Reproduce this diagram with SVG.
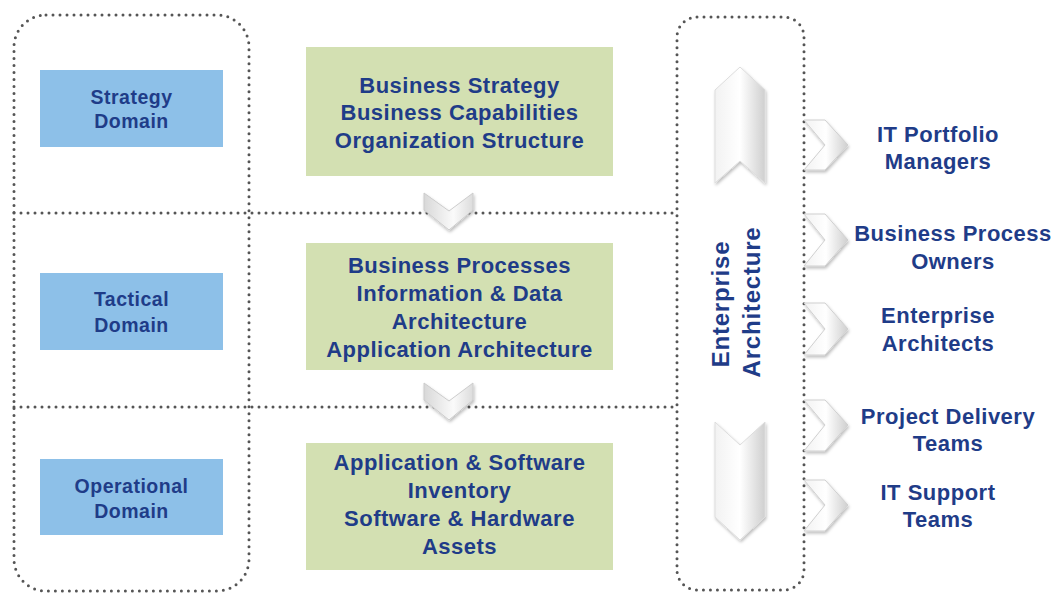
<svg xmlns="http://www.w3.org/2000/svg" width="1056" height="596" viewBox="0 0 1056 596">
<style>
.dot{fill:none;stroke:#555;stroke-width:3;stroke-dasharray:0 7;stroke-linecap:round}
.blue{fill:#8DC0E8}
.green{fill:#D3E0B2}
.t{font-family:"Liberation Sans",Arial,sans-serif;font-weight:bold;fill:#1F3C88;text-anchor:middle}
.s{font-size:19.5px;letter-spacing:0.5px}
.m{font-size:22px;letter-spacing:0.5px}
.chev{fill:url(#g1);stroke:#d0d0d0;stroke-width:1}
</style>
<defs>
<linearGradient id="g1" x1="0" y1="0" x2="1" y2="0">
<stop offset="0" stop-color="#f2f2f2"/><stop offset="0.5" stop-color="#ffffff"/><stop offset="1" stop-color="#cfcfcf"/>
</linearGradient>
<linearGradient id="g2" x1="0" y1="0" x2="1" y2="0">
<stop offset="0" stop-color="#d8d8d8"/><stop offset="0.6" stop-color="#fafafa"/><stop offset="1" stop-color="#dcdcdc"/>
</linearGradient>
<filter id="sh" x="-30%" y="-30%" width="160%" height="160%"><feDropShadow dx="1" dy="2" stdDeviation="1.5" flood-color="#000" flood-opacity="0.25"/></filter>
</defs>
<g id="frames">
<rect class="dot" x="14" y="15" width="235" height="576" rx="32"/>
<rect class="dot" x="677" y="17" width="127" height="573" rx="20"/>
<line class="dot" x1="14" y1="213" x2="677" y2="213"/>
<line class="dot" x1="14" y1="407" x2="677" y2="407"/>
</g>
<g id="strategy"><rect class="blue" x="40" y="70" width="183" height="77"/><text class="t s" x="131.5" y="104">Strategy</text><text class="t s" x="131.5" y="128">Domain</text></g>
<g id="tactical"><rect class="blue" x="40" y="273" width="183" height="77"/><text class="t s" x="131.5" y="306">Tactical</text><text class="t s" x="131.5" y="332">Domain</text></g>
<g id="operational"><rect class="blue" x="40" y="459" width="183" height="76"/><text class="t s" x="131.5" y="493">Operational</text><text class="t s" x="131.5" y="518">Domain</text></g>
<g id="box1"><rect class="green" x="306" y="47" width="307" height="129"/><text class="t m" x="459.5" y="93">Business Strategy</text><text class="t m" x="459.5" y="120">Business Capabilities</text><text class="t m" x="459.5" y="148">Organization Structure</text></g>
<g id="box2"><rect class="green" x="306" y="243" width="307" height="127"/><text class="t m" x="459.5" y="273">Business Processes</text><text class="t m" x="459.5" y="301">Information &amp; Data</text><text class="t m" x="459.5" y="329">Architecture</text><text class="t m" x="459.5" y="357">Application Architecture</text></g>
<g id="box3"><rect class="green" x="306" y="443" width="307" height="127"/><text class="t m" x="459.5" y="470">Application &amp; Software</text><text class="t m" x="459.5" y="498">Inventory</text><text class="t m" x="459.5" y="526">Software &amp; Hardware</text><text class="t m" x="459.5" y="554">Assets</text></g>
<g id="connectors">
<path filter="url(#sh)" fill="url(#g2)" stroke="#ccc" d="M424,193 L449,211 L473,193 L473,210 L449,230 L424,210 Z"/>
<path filter="url(#sh)" fill="url(#g2)" stroke="#ccc" d="M424,383 L449,401 L473,383 L473,400 L449,420 L424,400 Z"/>
<path filter="url(#sh)" fill="url(#g1)" stroke="#ddd" d="M715,90 L740,67 L765,90 L765,183 L740,161 L715,183 Z"/>
<path filter="url(#sh)" fill="url(#g1)" stroke="#ddd" d="M715,422 L740,445 L765,422 L765,517 L740,540 L715,517 Z"/>
<g filter="url(#sh)">
<path class="chev" d="M804,120 L825,120 L848,145 L825,170 L804,170 L825,145 Z"/>
<path class="chev" d="M804,214 L825,214 L848,240 L825,266 L804,266 L825,240 Z"/>
<path class="chev" d="M804,303 L825,303 L848,329 L825,355 L804,355 L825,329 Z"/>
<path class="chev" d="M804,400 L825,400 L848,425 L825,451 L804,451 L825,425 Z"/>
<path class="chev" d="M804,480 L825,480 L848,505 L825,531 L804,531 L825,505 Z"/>
</g>
</g>
<g id="ea"><text class="t" font-size="24" letter-spacing="0.8" transform="translate(729,304) rotate(-90)">Enterprise</text><text class="t" font-size="24" letter-spacing="0.8" transform="translate(760,302) rotate(-90)">Architecture</text></g>
<g id="r1"><text class="t m" x="938" y="142">IT Portfolio</text><text class="t m" x="938" y="169">Managers</text></g>
<g id="r2"><text class="t m" x="953" y="241">Business Process</text><text class="t m" x="953" y="269">Owners</text></g>
<g id="r3"><text class="t m" x="938" y="323">Enterprise</text><text class="t m" x="938" y="351">Architects</text></g>
<g id="r4"><text class="t m" x="948" y="424">Project Delivery</text><text class="t m" x="948" y="451">Teams</text></g>
<g id="r5"><text class="t m" x="938" y="500">IT Support</text><text class="t m" x="938" y="527">Teams</text></g>
</svg>
